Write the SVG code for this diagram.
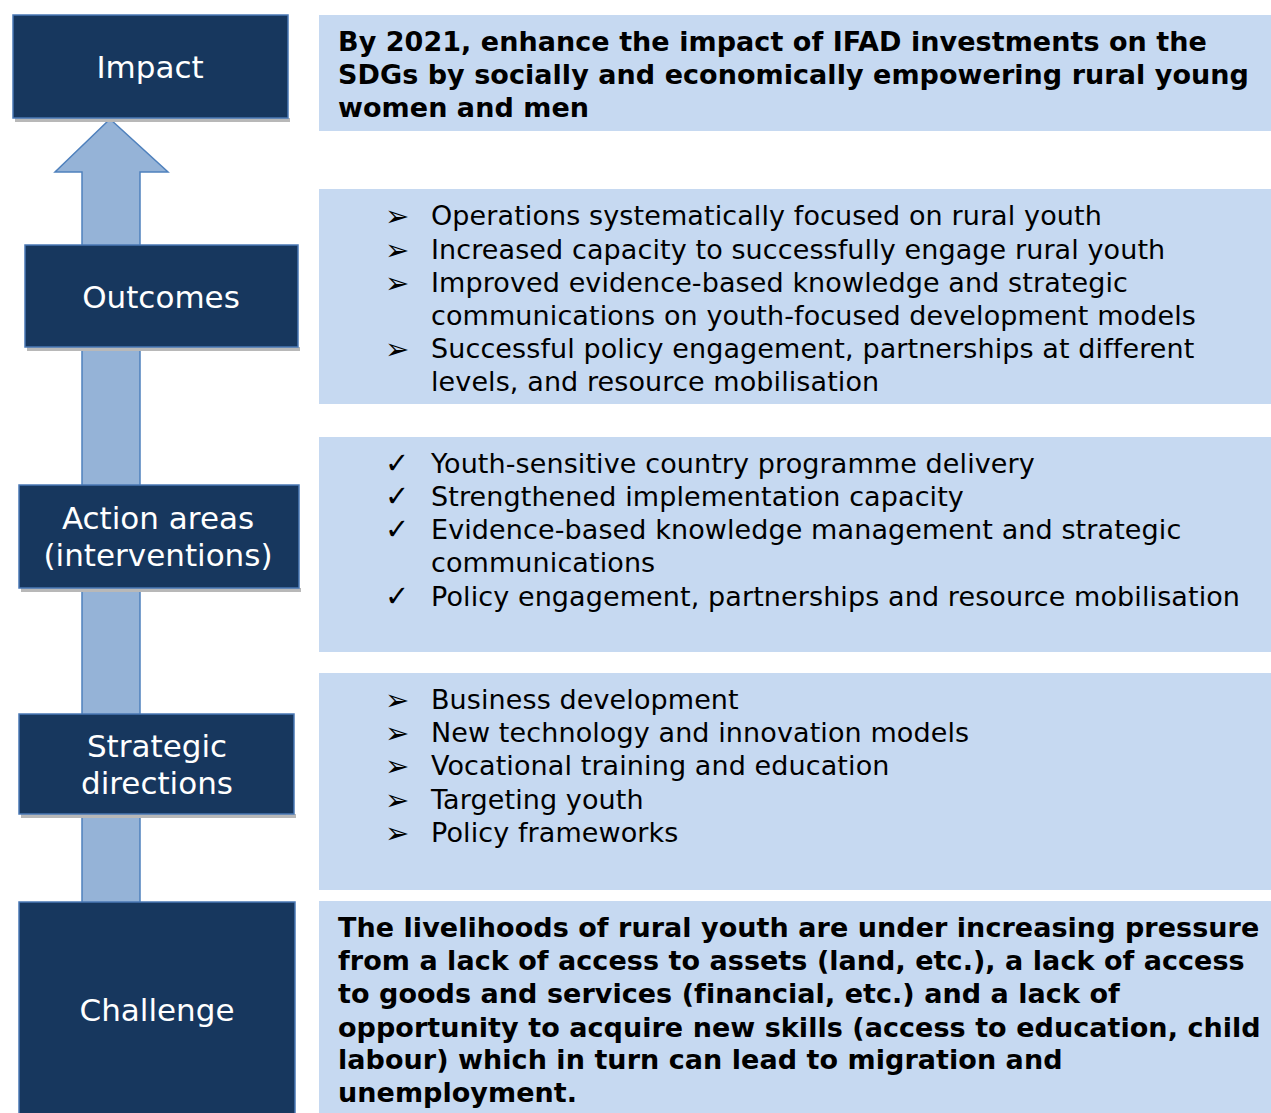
<svg xmlns="http://www.w3.org/2000/svg" width="1271" height="1113" viewBox="0 0 1271 1113">
<style>
.box{fill:#17375e;stroke:#4a78b5;stroke-width:1.5}
.shadow{fill:#b8b8b8}
.label{font-family:"DejaVu Sans",Verdana,sans-serif;font-size:31px;fill:#ffffff;text-anchor:middle}
.panel{fill:#c6d9f1}
.txt{font-family:"DejaVu Sans",Verdana,sans-serif;font-size:27px;letter-spacing:0.1px;fill:#000000}
.bul{font-family:"DejaVu Sans",Verdana,sans-serif;font-size:29px;fill:#000000}
.bold{font-family:"DejaVu Sans",Verdana,sans-serif;font-size:27px;letter-spacing:0.05px;font-weight:bold;fill:#000000}
.arrow{fill:#95b3d7;stroke:#4f81bd;stroke-width:1.5}
</style>
<rect width="1271" height="1113" fill="#ffffff"/>
<g id="connectors">
<polygon class="arrow" points="110,119 168,172 140,172 140,903 82,903 82,172 55,172"/>
</g>
<g id="impact">
<rect class="shadow" x="15" y="118" width="275" height="4"/>
<rect class="box" x="13" y="15" width="275" height="103"/>
<text class="label" x="150" y="78">Impact</text>
</g>
<g id="outcomes">
<rect class="shadow" x="27" y="347" width="273" height="4"/>
<rect class="box" x="25" y="245" width="273" height="102"/>
<text class="label" x="161" y="308">Outcomes</text>
</g>
<g id="action-areas">
<rect class="shadow" x="21" y="588" width="280" height="4"/>
<rect class="box" x="19" y="485" width="280" height="103"/>
<text class="label" x="158" y="529">Action areas</text>
<text class="label" x="158" y="566">(interventions)</text>
</g>
<g id="strategic-directions">
<rect class="shadow" x="21" y="814" width="275" height="4"/>
<rect class="box" x="19" y="714" width="275" height="100"/>
<text class="label" x="157" y="757">Strategic</text>
<text class="label" x="157" y="794">directions</text>
</g>
<g id="challenge">
<rect class="box" x="19" y="902" width="276" height="215"/>
<text class="label" x="157" y="1021">Challenge</text>
</g>
<g id="impact-panel">
<rect class="panel" x="319" y="15" width="952" height="116"/>
<text class="bold" x="338" y="51">By 2021, enhance the impact of IFAD investments on the</text>
<text class="bold" x="338" y="84">SDGs by socially and economically empowering rural young</text>
<text class="bold" x="338" y="117">women and men</text>
</g>
<g id="outcomes-panel">
<rect class="panel" x="319" y="189" width="952" height="215"/>
<text class="bul" x="385" y="226">➢</text>
<text class="txt" x="431" y="225">Operations systematically focused on rural youth</text>
<text class="bul" x="385" y="260">➢</text>
<text class="txt" x="431" y="259">Increased capacity to successfully engage rural youth</text>
<text class="bul" x="385" y="293">➢</text>
<text class="txt" x="431" y="292">Improved evidence-based knowledge and strategic</text>
<text class="txt" x="431" y="325">communications on youth-focused development models</text>
<text class="bul" x="385" y="359">➢</text>
<text class="txt" x="431" y="358">Successful policy engagement, partnerships at different</text>
<text class="txt" x="431" y="391">levels, and resource mobilisation</text>
</g>
<g id="action-areas-panel">
<rect class="panel" x="319" y="437" width="952" height="215"/>
<text class="bul" x="385" y="473">✓</text>
<text class="txt" x="431" y="473">Youth-sensitive country programme delivery</text>
<text class="bul" x="385" y="506">✓</text>
<text class="txt" x="431" y="506">Strengthened implementation capacity</text>
<text class="bul" x="385" y="539">✓</text>
<text class="txt" x="431" y="539">Evidence-based knowledge management and strategic</text>
<text class="txt" x="431" y="572">communications</text>
<text class="bul" x="385" y="606">✓</text>
<text class="txt" x="431" y="606">Policy engagement, partnerships and resource mobilisation</text>
</g>
<g id="strategic-directions-panel">
<rect class="panel" x="319" y="673" width="952" height="217"/>
<text class="bul" x="385" y="710">➢</text>
<text class="txt" x="431" y="709">Business development</text>
<text class="bul" x="385" y="743">➢</text>
<text class="txt" x="431" y="742">New technology and innovation models</text>
<text class="bul" x="385" y="776">➢</text>
<text class="txt" x="431" y="775">Vocational training and education</text>
<text class="bul" x="385" y="810">➢</text>
<text class="txt" x="431" y="809">Targeting youth</text>
<text class="bul" x="385" y="843">➢</text>
<text class="txt" x="431" y="842">Policy frameworks</text>
</g>
<g id="challenge-panel">
<rect class="panel" x="319" y="901" width="952" height="212"/>
<text class="bold" x="338" y="937">The livelihoods of rural youth are under increasing pressure</text>
<text class="bold" x="338" y="970">from a lack of access to assets (land, etc.), a lack of access</text>
<text class="bold" x="338" y="1003">to goods and services (financial, etc.) and a lack of</text>
<text class="bold" x="338" y="1037">opportunity to acquire new skills (access to education, child</text>
<text class="bold" x="338" y="1069">labour) which in turn can lead to migration and</text>
<text class="bold" x="338" y="1102">unemployment.</text>
</g>
</svg>
